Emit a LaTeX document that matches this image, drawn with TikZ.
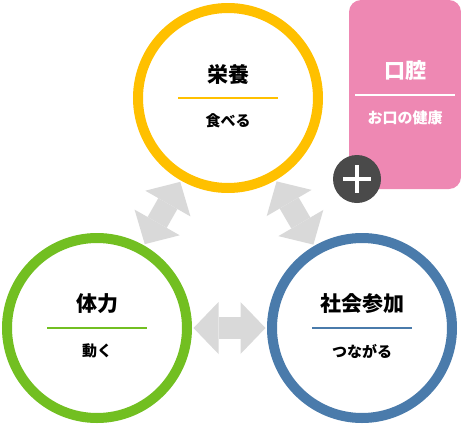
\documentclass[tikz,border=0pt]{standalone}
\usepackage{fontspec}
\setmainfont{Noto Sans CJK JP}
\usetikzlibrary{arrows.meta, positioning, calc}
\definecolor{cyellow}{HTML}{FFC000}
\definecolor{cgreen}{HTML}{72BF21}
\definecolor{cblue}{HTML}{4A7BAB}
\definecolor{cpink}{HTML}{EE88B3}
\definecolor{cdark}{HTML}{4A4A4A}
\definecolor{carrow}{HTML}{D9D9D9}
\tikzset{
  every picture/.style={line width=1pt},
  ring/.style={circle, draw=#1, fill=white, line width=10pt, minimum size=180pt, inner sep=0pt},
  head/.style={font=\bfseries\fontsize{21}{21}\selectfont, text=#1, inner sep=0pt},
  head/.default=black,
  sub/.style={font=\bfseries\fontsize{15}{15}\selectfont, text=#1, inner sep=0pt},
  sub/.default=black,
  rule/.style={fill=#1, minimum width=100pt, minimum height=2pt, inner sep=0pt},
  fat/.style={draw=carrow, line width=22pt,
    {Triangle[length=25pt, width=52pt, line width=0pt]}-{Triangle[length=25pt, width=52pt, line width=0pt]},
    shorten <=1.5pt, shorten >=1.5pt},
}

\begin{document}
\begin{tikzpicture}[x=1pt, y=-1pt]
  \useasboundingbox (0,0) rectangle (461,426);
  % oral health card
  \node[fill=cpink, rounded corners=12pt, minimum width=112pt, minimum height=189pt, inner sep=0pt] (oral) at (405,94.5) {};
  \node[rule=white] (oralrule) at (405,95) {};
  \node[head=white] (oralhead) at ($(oralrule)+(0,-25)$) {口腔};
  \node[sub=white] (oralsub) at ($(oralrule)+(0,23)$) {お口の健康};
  \node[circle, fill=cdark, minimum size=48pt, inner sep=0pt] (plus) at (357,179) {};
  \draw[white, line width=4.5pt] ($(plus)+(-14,0)$) -- ($(plus)+(14,0)$);
  \draw[white, line width=4.5pt] ($(plus)+(0,-14)$) -- ($(plus)+(0,14)$);
  % three rings
  \foreach \n/\c/\x/\y/\h/\s in {yel/cyellow/228/98/栄養/食べる, grn/cgreen/97/328/体力/動く, blu/cblue/362/328/社会参加/つながる} {
    \node[ring=\c] (\n) at (\x,\y) {};
    \node[rule=\c] (\n rule) at (\n) {};
    \node[head] (\n head) at ($(\n rule)+(0,-24)$) {\h};
    \node[sub] (\n sub) at ($(\n rule)+(0,23)$) {\s};
  }
  % links
  \draw[fat] (grn) -- (yel);
  \draw[fat] (blu) -- (yel);
  \draw[fat] (grn) -- (blu);
\end{tikzpicture}
\end{document}
